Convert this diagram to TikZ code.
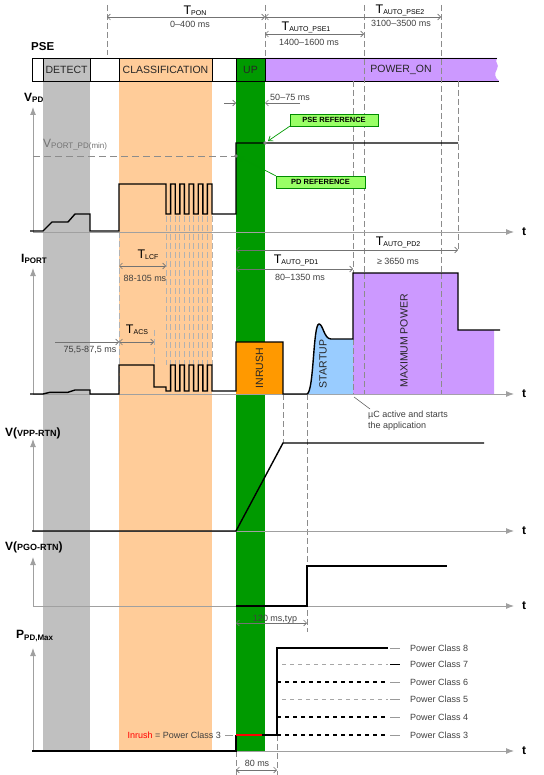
\documentclass[tikz,border=0pt]{standalone}
\usepackage{fontspec}
\setmainfont{Liberation Sans}
\usetikzlibrary{arrows.meta}
\definecolor{detgray}{HTML}{C0C0C0}
\definecolor{clsorange}{HTML}{FFCC99}
\definecolor{upgreen}{HTML}{009A00}
\definecolor{onpurple}{HTML}{CC99FF}
\definecolor{inrorange}{HTML}{FF9900}
\definecolor{stublue}{HTML}{99CCFF}
\definecolor{refgreen}{HTML}{99FF66}
\definecolor{axgray}{HTML}{A0A0A0}
\definecolor{txtgray}{HTML}{404040}
\newcommand{\tsym}[1]{{\fontsize{12.5}{12}\selectfont T}{\fontsize{7}{8}\selectfont\raisebox{-0.3ex}{#1}}}
\newcommand{\ysym}[2]{{\fontsize{12}{12}\selectfont\bfseries #1}{\fontsize{8}{8}\selectfont\bfseries\raisebox{-0.4ex}{#2}}}
\tikzset{
  axis/.style={draw=axgray, line width=0.9pt, -{Latex[length=8pt,width=6pt]}},
  sig/.style={line width=1.4pt, line join=miter},
  guide/.style={draw=black!45, line width=0.7pt, dash pattern=on 6pt off 3pt},
  dim/.style={draw=black!55, line width=0.6pt, {Straight Barb[length=3pt,width=6pt]}-{Straight Barb[length=3pt,width=6pt]}},
  dimto/.style={draw=black!55, line width=0.6pt, -{Straight Barb[length=3pt,width=6pt]}},
  lbl/.style={font=\fontsize{9}{11}\selectfont, text=txtgray, inner sep=1pt},
  barlbl/.style={font=\fontsize{10.5}{12}\selectfont, text=black!85, inner sep=0pt},
  vlbl/.style={font=\fontsize{10.5}{12}\selectfont, text=black!85, rotate=90, inner sep=0pt},
  ylbl/.style={anchor=west, inner sep=0pt},
  tlbl/.style={font=\bfseries\fontsize{12}{12}\selectfont, inner sep=0pt},
  refbox/.style={fill=refgreen, draw=green!55!black, line width=0.3pt,
    font=\bfseries\fontsize{7.5}{8}\selectfont, minimum height=12pt, inner sep=1pt},
  refarrow/.style={draw=green!60!black, line width=0.7pt, -{Straight Barb[length=4pt,width=6pt]}},
  pcl/.style={font=\fontsize{9}{10}\selectfont, text=txtgray, anchor=west, inner sep=0pt},
  blkdash/.style={line width=1.5pt, dash pattern=on 3.5pt off 4.5pt},
  grydash/.style={draw=black!35, line width=1pt, dash pattern=on 4pt off 4pt},
}
\begin{document}
\begin{tikzpicture}[x=1pt,y=-1pt]
\useasboundingbox (0,0) rectangle (543,775);

% phase bands
\fill[detgray] (43,58) rectangle (90,751);
\fill[clsorange] (119,58) rectangle (212,751);
\fill[upgreen] (236,58) rectangle (265,751);
\fill[onpurple] (265,58) -- (497,58) .. controls (494,63) and (500,64) .. (497,69)
  .. controls (494,74) and (495,78) .. (499,81) -- (265,81) -- cycle;

% PSE bar
\node[ylbl, font=\bfseries\fontsize{11.5}{12}\selectfont] (pse) at (31,47) {PSE};
\draw[line width=0.8pt] (497,58) -- (32,58) -- (32,81) -- (499,81);
\foreach \x in {43,90,119,212,236,265} \draw[line width=0.8pt] (\x,58) -- (\x,81);
\node[barlbl] (detect) at (66.5,69.5) {DETECT};
\node[barlbl] (classif) at (165.5,69.5) {CLASSIFICATION};
\node[barlbl] (up) at (250.5,69.5) {UP};
\node[barlbl] (poweron) at (401,69.5) {POWER\_ON};

% guides
\draw[guide] (107,5) -- (107,55);
\draw[guide] (265,5) -- (265,58);
\draw[guide] (364,5) -- (364,394);
\draw[guide] (441,5) -- (441,394);
\draw[guide] (353,81) -- (353,394);
\draw[guide] (458,81) -- (458,250);
\draw[guide, draw=black!30] (119,232) -- (119,394);
\draw[guide, draw=black!30] (154,330) -- (154,365);
\foreach \x in {166,170.6,...,212.1}
  \draw[guide, draw=black!30] (\x,216) -- (\x,365);
\draw[guide] (283,394) -- (283,443);
\draw[guide] (307,394) -- (307,632);
\draw[guide] (236,751) -- (236,775);
\draw[guide] (277,735) -- (277,775);

% PSE timing
\draw[dim] (107,17) -- (265,17);
\draw[dim] (265,17) -- (441,17);
\draw[dim] (265,34) -- (364,34);
\node (tpon) at (195,11) {\tsym{PON}};
\node[lbl] (tponv) at (190,24) {0–400 ms};
\node (tpse2) at (400,10) {\tsym{AUTO\_PSE2}};
\node[lbl] (tpse2v) at (401,23) {3100–3500 ms};
\node (tpse1) at (306,27) {\tsym{AUTO\_PSE1}};
\node[lbl] (tpse1v) at (309,42) {1400–1600 ms};

% V_PD
\node[ylbl] (vpd) at (24,98) {\ysym{V}{PD}};
\draw[axis] (33,232) -- (33,107);
\draw[axis] (33,232) -- (514,232);
\node[tlbl] (t1) at (524,232) {t};
\draw[draw=black!45, line width=0.8pt, dash pattern=on 7pt off 4pt] (33,156) -- (236,156);
\node[anchor=west, inner sep=0pt, text=black!55] (vport) at (43,145)
  {{\fontsize{12}{12}\selectfont V}{\fontsize{8}{8}\selectfont\raisebox{-0.3ex}{PORT\_PD(min)}}};
\draw[sig] (30,231) -- (43,231) -- (52,222) -- (68,222) -- (75,214) -- (90,214) -- (90,231)
  -- (119,231) -- (119,184) -- (166,184) -- (166,214)
  \foreach \x in {170.6,179.8,...,207.5} { -- (\x,214) -- (\x,184) -- (\x+4.6,184) -- (\x+4.6,214) }
  -- (236,214) -- (236,143) -- (458,143);
\draw[dimto] (224,103) -- (236,103);
\draw[dimto] (300,103) -- (265,103);
\node[lbl] (t5075) at (290,97) {50–75 ms};
\fill[gray] (265,143) circle (1.8pt);
\fill[gray] (236,156) circle (1.8pt);
\node[refbox, minimum width=88pt] (pseref) at (334,120) {PSE REFERENCE};
\node[refbox, minimum width=89pt] (pdref) at (320.5,182) {PD REFERENCE};
\draw[refarrow] (pseref.south west) -- (268,141);
\draw[refarrow] (pdref.north west) -- (239,157);

% I_PORT
\node[ylbl] (iport) at (21,259) {\ysym{I}{PORT}};
\draw[axis] (33,394) -- (33,268);
\draw[axis] (33,394) -- (514,394);
\node[tlbl] (t2) at (524,394) {t};
\fill[inrorange] (236,342) rectangle (283,394);
\fill[stublue] (307,394) .. controls (314,392) and (313,324) .. (319,324)
  .. controls (323,324) and (324,339) .. (331,339) -- (353,339) -- (353,394) -- cycle;
\fill[onpurple] (353,273) -- (458,273) -- (458,330) -- (494,330) -- (494,394) -- (353,394) -- cycle;
\draw[guide] (353,339) -- (353,394);
\draw[guide] (364,273) -- (364,394);
\draw[guide] (441,273) -- (441,394);
\node[vlbl] (inrush) at (259.5,368) {INRUSH};
\node[vlbl] (startup) at (323,364) {STARTUP};
\node[vlbl] (maxpow) at (404,341) {MAXIMUM POWER};
\draw[sig] (30,394) -- (43,394) -- (50,392.3) -- (68,392.3) -- (75,390) -- (90,390) -- (90,394)
  -- (119,394) -- (119,365) -- (154,365) -- (154,387) -- (166,387) -- (166,391)
  \foreach \x in {170.6,179.8,...,207.5} { -- (\x,391) -- (\x,365) -- (\x+4.6,365) -- (\x+4.6,391) }
  -- (236,391) -- (236,342) -- (283,342) -- (283,394) -- (307,394)
  .. controls (314,392) and (313,324) .. (319,324)
  .. controls (323,324) and (324,339) .. (331,339) -- (353,339) -- (353,273)
  -- (458,273) -- (458,330) -- (500,330);
\draw[dim] (119,266) -- (166,266);
\node (tlcf) at (148,255) {\tsym{LCF}};
\node[lbl] (tlcfv) at (145,278) {88-105 ms};
\draw[dimto] (55,342) -- (119,342);
\draw[dim] (119,342) -- (154,342);
\node (tacs) at (137,330) {\tsym{ACS}};
\node[lbl] (tacsv) at (90,350) {75,5-87,5 ms};
\draw[dim] (236,269) -- (353,269);
\node (tpd1) at (296,260) {\tsym{AUTO\_PD1}};
\node[lbl] (tpd1v) at (300,277) {80–1350 ms};
\draw[dim] (236,250) -- (458,250);
\node (tpd2) at (398,242) {\tsym{AUTO\_PD2}};
\node[lbl] (tpd2v) at (398,261) {≥ 3650 ms};
\draw[black!60, line width=0.6pt] (354,397) -- (370,409);
\node[lbl, anchor=north west, align=left] (muc) at (367,410) {µC active and starts\\the application};

% V(VPP-RTN)
\node[ylbl] (vpp) at (5,433) {\bfseries{\fontsize{12}{12}\selectfont V(}{\fontsize{9}{9}\selectfont VPP-RTN}{\fontsize{12}{12}\selectfont )}};
\draw[axis] (33,531) -- (33,439);
\draw[axis] (33,531) -- (514,531);
\node[tlbl] (t3) at (524,531) {t};
\draw[sig] (32,531) -- (236,531) -- (283,443) -- (484,443);

% V(PGO-RTN)
\node[ylbl] (pgo) at (5,547) {\bfseries{\fontsize{12}{12}\selectfont V(}{\fontsize{9}{9}\selectfont PGO-RTN}{\fontsize{12}{12}\selectfont )}};
\draw[axis] (33,606) -- (33,557);
\draw[axis] (33,606) -- (514,606);
\node[tlbl] (t4) at (524,606) {t};
\draw[sig] (236,606) -- (307,606) -- (307,566) -- (447,566);
\draw[dim] (236,623) -- (307,623);
\node[lbl, anchor=base] (t120) at (275,621) {120 ms,typ};

% P_PD,Max
\node[ylbl] (ppd) at (16,636) {\ysym{P}{PD,Max}};
\draw[axis] (33,751) -- (33,648);
\draw[axis] (33,751) -- (514,751);
\node[tlbl] (t5) at (524,751) {t};
\draw[grydash] (282,664) -- (388,664);
\draw[blkdash] (277,682) -- (388,682);
\draw[grydash] (282,699) -- (388,699);
\draw[blkdash] (277,717) -- (388,717);
\draw[blkdash] (277,735) -- (388,735);
\draw[sig] (32,751) -- (236,751) -- (236,735);
\draw[sig, red] (236,735) -- (262,735);
\draw[sig] (262,735) -- (277,735) -- (277,648) -- (388,648);
\foreach \y/\n in {648/8,664/7,682/6,699/5,717/4,735/3} {
  \draw[black!40, line width=0.8pt] (390,\y) -- (400,\y);
  \node[pcl] (pc\n) at (410,\y) {Power Class \n};
}
\draw[black, line width=0.8pt] (390,664) -- (400,664);
\node[lbl, anchor=east] (inrpc) at (222,735) {{\color{red}Inrush} = Power Class 3};
\draw[black!40, line width=0.8pt] (inrpc.east) ++(3,0) -- ++(8,0);
\draw[dim] (236,770) -- (277,770);
\node[lbl] (t80) at (257,763) {80 ms};
\end{tikzpicture}
\end{document}
